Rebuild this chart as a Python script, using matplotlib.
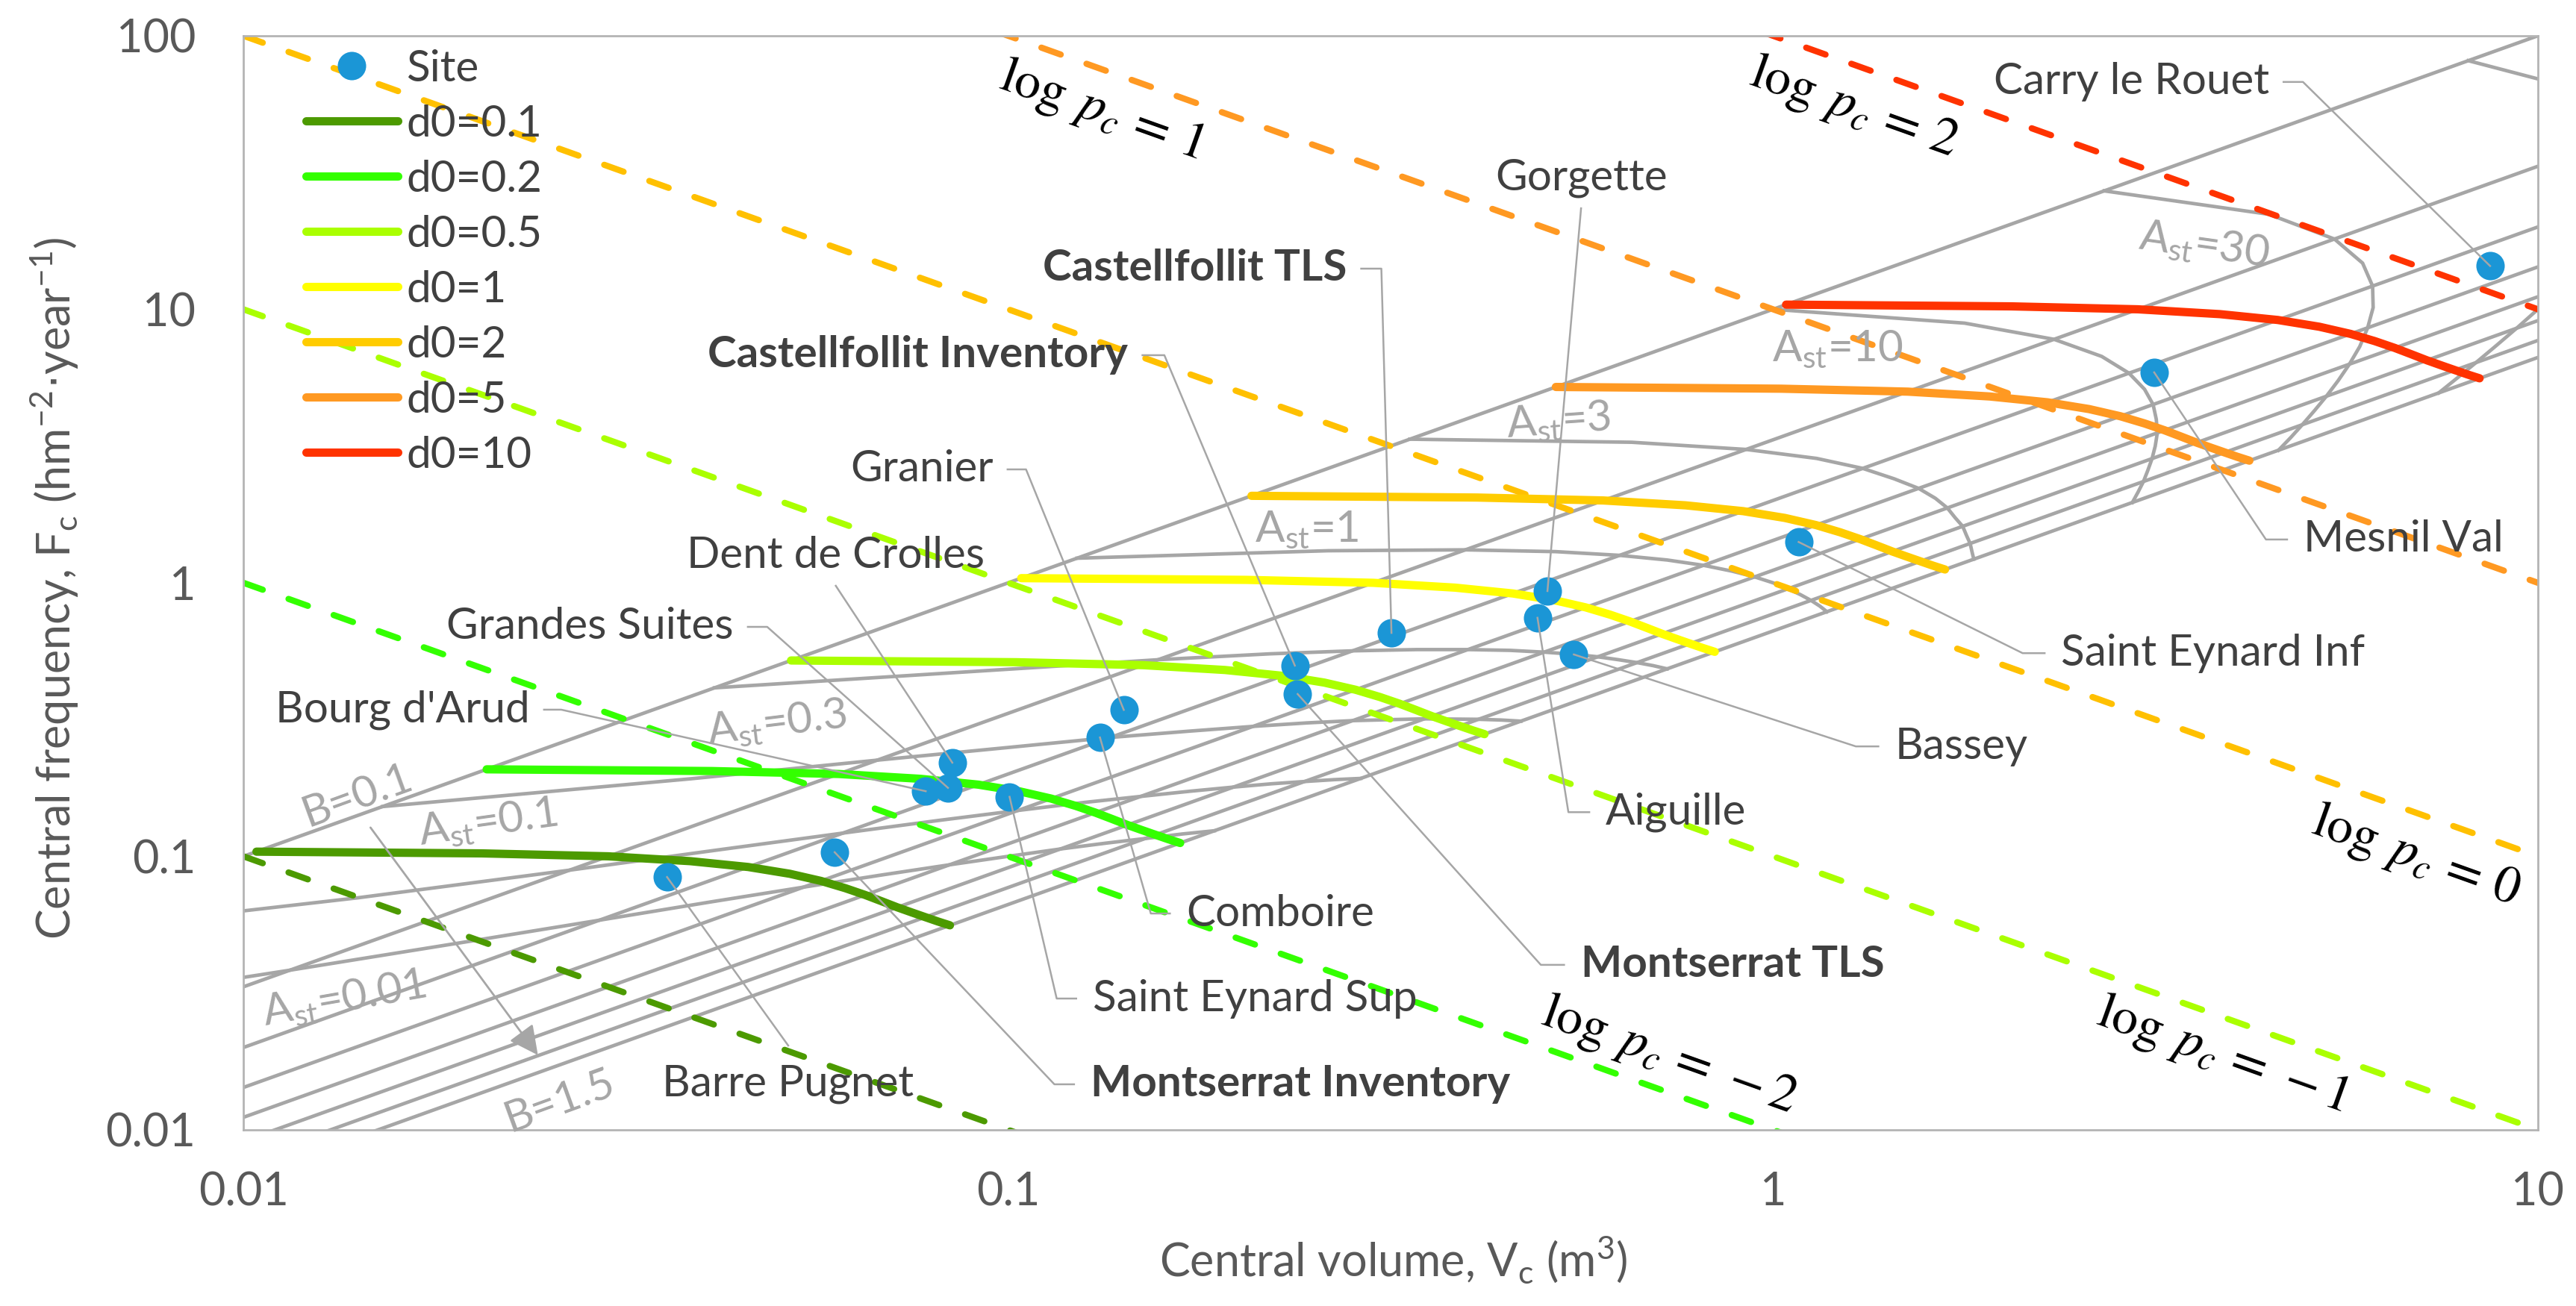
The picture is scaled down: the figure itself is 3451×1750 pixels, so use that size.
import numpy as np
import matplotlib
matplotlib.use("Agg")
import matplotlib.pyplot as plt
from matplotlib.lines import Line2D
from matplotlib.ticker import NullLocator

plt.rcParams['font.family'] = ['Lato', 'DejaVu Sans']

# B values at which the gray A_st curves and the coloured d0 curves are read
b_samples = [0.1, 0.2, 0.3, 0.4, 0.5, 0.6, 0.7, 0.8, 0.9, 1.0, 1.1, 1.2, 1.3, 1.4, 1.5]

# straight gray lines of constant B (each one is F_c = V_c / B)
b_lines = [0.1, 0.3, 0.5, 0.7, 0.9, 1.1, 1.3, 1.5]

# gray curves of constant A_st: central volume where each curve meets B
ast_values = [0.01, 0.03, 0.1, 0.3, 1, 3, 10, 30, 100]
ast_vol = [
    [0.00187, 0.00563, 0.0115, 0.0194, 0.0292, 0.0409, 0.0540, 0.0684, 0.0838, 0.100, 0.117, 0.134, 0.151, 0.169, 0.186],
    [0.00509, 0.0141, 0.0267, 0.0425, 0.0608, 0.0812, 0.103, 0.126, 0.149, 0.173, 0.197, 0.221, 0.244, 0.267, 0.289],
    [0.0152, 0.0384, 0.0674, 0.100, 0.136, 0.172, 0.209, 0.246, 0.282, 0.316, 0.350, 0.381, 0.412, 0.441, 0.468],
    [0.0413, 0.0959, 0.157, 0.220, 0.282, 0.342, 0.399, 0.453, 0.502, 0.548, 0.590, 0.628, 0.664, 0.697, 0.727],
    [0.123, 0.262, 0.396, 0.520, 0.630, 0.727, 0.811, 0.883, 0.946, 1.000, 1.046, 1.086, 1.121, 1.151, 1.176],
    [0.335, 0.653, 0.922, 1.14, 1.31, 1.44, 1.55, 1.63, 1.69, 1.73, 1.77, 1.79, 1.81, 1.82, 1.83],
    [1.00, 1.78, 2.33, 2.69, 2.92, 3.06, 3.14, 3.17, 3.18, 3.16, 3.13, 3.09, 3.05, 3.00, 2.95],
    [2.71, 4.45, 5.42, 5.90, 6.08, 6.09, 5.99, 5.85, 5.67, 5.48, 5.29, 5.10, 4.92, 4.75, 4.58],
    [8.11, 12.1, 13.7, 13.9, 13.6, 12.9, 12.2, 11.4, 10.7, 10.0, 9.38, 8.81, 8.30, 7.84, 7.42],
]

# coloured curves of constant d0: central volume at each B
d0_values = [0.1, 0.2, 0.5, 1, 2, 5, 10]
d0_vol = [
    [0.0104, 0.0205, 0.0300, 0.0384, 0.0457, 0.0518, 0.0569, 0.0612, 0.0650, 0.0684, 0.0716, 0.0748, 0.0779, 0.0809, 0.0839],
    [0.0208, 0.0410, 0.0600, 0.0768, 0.0914, 0.1036, 0.1138, 0.1224, 0.1300, 0.1368, 0.1432, 0.1496, 0.1558, 0.1618, 0.1678],
    [0.0520, 0.1025, 0.1500, 0.1920, 0.2285, 0.2590, 0.2845, 0.3060, 0.3250, 0.3420, 0.3580, 0.3740, 0.3895, 0.4045, 0.4195],
    [0.104, 0.205, 0.300, 0.384, 0.457, 0.518, 0.569, 0.612, 0.650, 0.684, 0.716, 0.748, 0.779, 0.809, 0.839],
    [0.208, 0.410, 0.600, 0.768, 0.914, 1.036, 1.138, 1.224, 1.300, 1.368, 1.432, 1.496, 1.558, 1.618, 1.678],
    [0.520, 1.025, 1.500, 1.920, 2.285, 2.590, 2.845, 3.060, 3.250, 3.420, 3.580, 3.740, 3.895, 4.045, 4.195],
    [1.04, 2.05, 3.00, 3.84, 4.57, 5.18, 5.69, 6.12, 6.50, 6.84, 7.16, 7.48, 7.79, 8.09, 8.39],
]
d0_colors = ['#4C9A00', '#33FF00', '#AAFF00', '#FFFF00', '#FFCC00', '#FF9922', '#FF3300']

# iso-lines of log pc (pc = Fc * Vc)
pc_levels = [-3, -2, -1, 0, 1, 2]
pc_colors = ['#4C9A00', '#33FF00', '#AAFF00', '#FFC000', '#FF9922', '#FF3300']
pc_label_levels = [1, 2, 0, -1, -2]
pc_label_vol = [0.1324, 1.274, 6.92, 3.87, 0.730]
pc_label_freq = [53.0, 54.4, 0.0997, 0.0186, 0.0185]

# labels of the gray grid
grid_label_text = ['A$_{\\mathregular{st}}$=0.01', 'A$_{\\mathregular{st}}$=0.1', 'A$_{\\mathregular{st}}$=0.3',
                   'A$_{\\mathregular{st}}$=1', 'A$_{\\mathregular{st}}$=3', 'A$_{\\mathregular{st}}$=10',
                   'A$_{\\mathregular{st}}$=30', 'B=0.1', 'B=1.5']
grid_label_vol = [0.01355, 0.0209, 0.0498, 0.2455, 0.524, 1.216, 3.66, 0.0141, 0.0259]
grid_label_freq = [0.030, 0.1315, 0.305, 1.56, 3.88, 7.14, 17.0, 0.1667, 0.01277]
grid_label_rot = [10, 8, 7, 0, 4, 0, -8, 20, 20]

# sites
site_names = ['Carry le Rouet', 'Mesnil Val', 'Saint Eynard Inf', 'Bassey', 'Gorgette', 'Aiguille',
              'Castellfollit TLS', 'Castellfollit Inventory', 'Montserrat TLS', 'Granier', 'Comboire',
              'Dent de Crolles', 'Grandes Suites', "Bourg d'Arud", 'Saint Eynard Sup',
              'Montserrat Inventory', 'Barre Pugnet']
site_vol = [8.66, 3.15, 1.08, 0.549, 0.507, 0.492, 0.317, 0.237, 0.239, 0.1416, 0.1318,
            0.0845, 0.0834, 0.078, 0.1004, 0.0593, 0.0358]
site_freq = [14.4, 5.88, 1.41, 0.547, 0.933, 0.745, 0.656, 0.498, 0.392, 0.343, 0.272,
             0.220, 0.178, 0.173, 0.165, 0.1035, 0.084]
bold_sites = ['Castellfollit TLS', 'Castellfollit Inventory', 'Montserrat TLS', 'Montserrat Inventory']

# callout anchor (start of the leader, next to the text), side of the text, elbow volume
label_vol = [4.65, 4.70, 2.265, 1.373, 0.561, 0.575, 0.2894, 0.1498, 0.533, 0.0998, 0.1627,
             0.0595, 0.04566, 0.02472, 0.1227, 0.1219, 0.05156]
label_freq = [67.8, 1.44, 0.553, 0.2523, 23.4, 0.145, 14.08, 6.795, 0.0401, 2.598, 0.0618,
              0.975, 0.690, 0.3437, 0.0302, 0.01467, 0.02033]
label_side = ['left', 'right', 'right', 'right', 'above', 'right', 'left', 'left', 'right', 'left',
              'right', 'above', 'left', 'left', 'right', 'right', 'below']
elbow_vol = [4.93, 4.41, 2.12, 1.283, None, 0.540, 0.3075, 0.160, 0.497, 0.1055, 0.1536,
             None, 0.0484, 0.02603, 0.1157, 0.1149, None]

grid_gray = '#A6A6A6'
text_dark = '#404040'
axis_text = '#595959'
site_color = '#1B96D6'

fig = plt.figure(figsize=(17.255, 8.75), dpi=200)
ax = fig.add_axes([0.0945, 0.1349, 0.8907, 0.8377])
ax.set_xscale('log')
ax.set_yscale('log')
ax.set_xlim(0.01, 10)
ax.set_ylim(0.01, 100)

b_arr = np.array(b_samples)
v_edges = np.array([0.01, 10.0])

# gray grid: B lines and A_st curves
for b in b_lines:
    ax.plot(v_edges, v_edges / b, color=grid_gray, lw=1.7, zorder=1)
for vol in ast_vol:
    v = np.array(vol)
    ax.plot(v, v / b_arr, color=grid_gray, lw=1.7, zorder=1)

# dashed log pc lines
for k, c in zip(pc_levels, pc_colors):
    ax.plot(v_edges, 10.0 ** k / v_edges, color=c, lw=3.0, ls=(0, (3.3, 4.4)),
            dash_capstyle='round', zorder=2)

# d0 curves
for d0, vol, c in zip(d0_values, d0_vol, d0_colors):
    v = np.array(vol)
    ax.plot(v, v / b_arr, color=c, lw=4, solid_capstyle='round', zorder=3)

# sites
ax.plot(site_vol, site_freq, ls='none', marker='o', ms=13.7, color=site_color,
        markeredgewidth=0, zorder=4)


def screen_angle(p0, p1):
    a = ax.transData.transform(p0)
    b = ax.transData.transform(p1)
    return np.degrees(np.arctan2(b[1] - a[1], b[0] - a[0]))


pc_angle = screen_angle((1, 1), (10, 0.1))

for k, v, f in zip(pc_label_levels, pc_label_vol, pc_label_freq):
    num = '\\mathit{%d}' % abs(k)
    sign = '-' if k < 0 else ''
    ax.text(v, f, '$\\log\\;p_c\\,=\\,%s%s$' % (sign, num), math_fontfamily='stix', fontsize=25,
            rotation=pc_angle, rotation_mode='anchor', ha='center', va='center',
            color='black', zorder=6)

for t, v, f, r in zip(grid_label_text, grid_label_vol, grid_label_freq, grid_label_rot):
    ax.text(v, f, t, fontsize=21, color=grid_gray, rotation=r, rotation_mode='anchor',
            ha='center', va='center', zorder=6)

# arrow from B=0.1 towards B=1.5
ax.annotate('', xy=(0.02427, 0.01875), xytext=(0.01466, 0.1274),
            arrowprops=dict(arrowstyle='-|>', color=grid_gray, lw=1.0, mutation_scale=30,
                            shrinkA=0, shrinkB=0), zorder=6)

# callouts
for i, name in enumerate(site_names):
    av, af, side = label_vol[i], label_freq[i], label_side[i]
    if side in ('left', 'right'):
        xs = [av, elbow_vol[i], site_vol[i]]
        ys = [af, af, site_freq[i]]
    else:
        xs = [av, site_vol[i]]
        ys = [af, site_freq[i]]
    ax.plot(xs, ys, color=grid_gray, lw=0.9, zorder=5)
    if side == 'left':
        off, ha, va = (-7, 0), 'right', 'center'
    elif side == 'right':
        off, ha, va = (8, 0), 'left', 'center'
    elif side == 'above':
        off, ha, va = (0, 5), 'center', 'bottom'
    else:
        off, ha, va = (0, -9), 'center', 'top'
    ax.annotate(name, xy=(av, af), xytext=off, textcoords='offset points', ha=ha, va=va,
                fontsize=21, color=text_dark,
                fontweight='bold' if name in bold_sites else 'normal', zorder=6)

# axes styling
ax.set_xticks([0.01, 0.1, 1, 10])
ax.set_xticklabels(['0.01', '0.1', '1', '10'])
ax.set_yticks([0.01, 0.1, 1, 10, 100])
ax.set_yticklabels(['0.01', '0.1', '1', '10', '100'])
ax.xaxis.set_minor_locator(NullLocator())
ax.yaxis.set_minor_locator(NullLocator())
ax.tick_params(axis='both', length=0, labelsize=22, labelcolor=axis_text)
ax.tick_params(axis='x', pad=20)
ax.tick_params(axis='y', pad=23)
for s in ax.spines.values():
    s.set_color('#B4B4B4')
    s.set_linewidth(1.0)

fig.text(0.5408, 0.0354, 'Central volume, V$_{\\mathregular{c}}$ (m$^{\\mathregular{3}}$)',
         ha='center', va='center', fontsize=22, color=axis_text)
fig.text(0.0212, 0.5497,
         'Central frequency, F$_{\\mathregular{c}}$ (hm$^{\\mathregular{-2}}$$\\cdot$year$^{\\mathregular{-1}}$)',
         ha='center', va='center', rotation=90, fontsize=22, color=axis_text)

# legend
handles = [Line2D([], [], ls='none', marker='o', ms=13.7, markeredgewidth=0, color=site_color, label='Site')]
for d0, c in zip(d0_values, d0_colors):
    handles.append(Line2D([], [], color=c, lw=4, solid_capstyle='round', label='d0=%g' % d0))
leg = ax.legend(handles=handles, loc='upper left', bbox_to_anchor=(0.0273, 0.988), frameon=False,
                fontsize=21, handlelength=2.1, handletextpad=0.2, labelspacing=0.36,
                borderpad=0, borderaxespad=0)
for t in leg.get_texts():
    t.set_color(text_dark)
leg.set_zorder(7)

fig.savefig('out.png', dpi=200)
